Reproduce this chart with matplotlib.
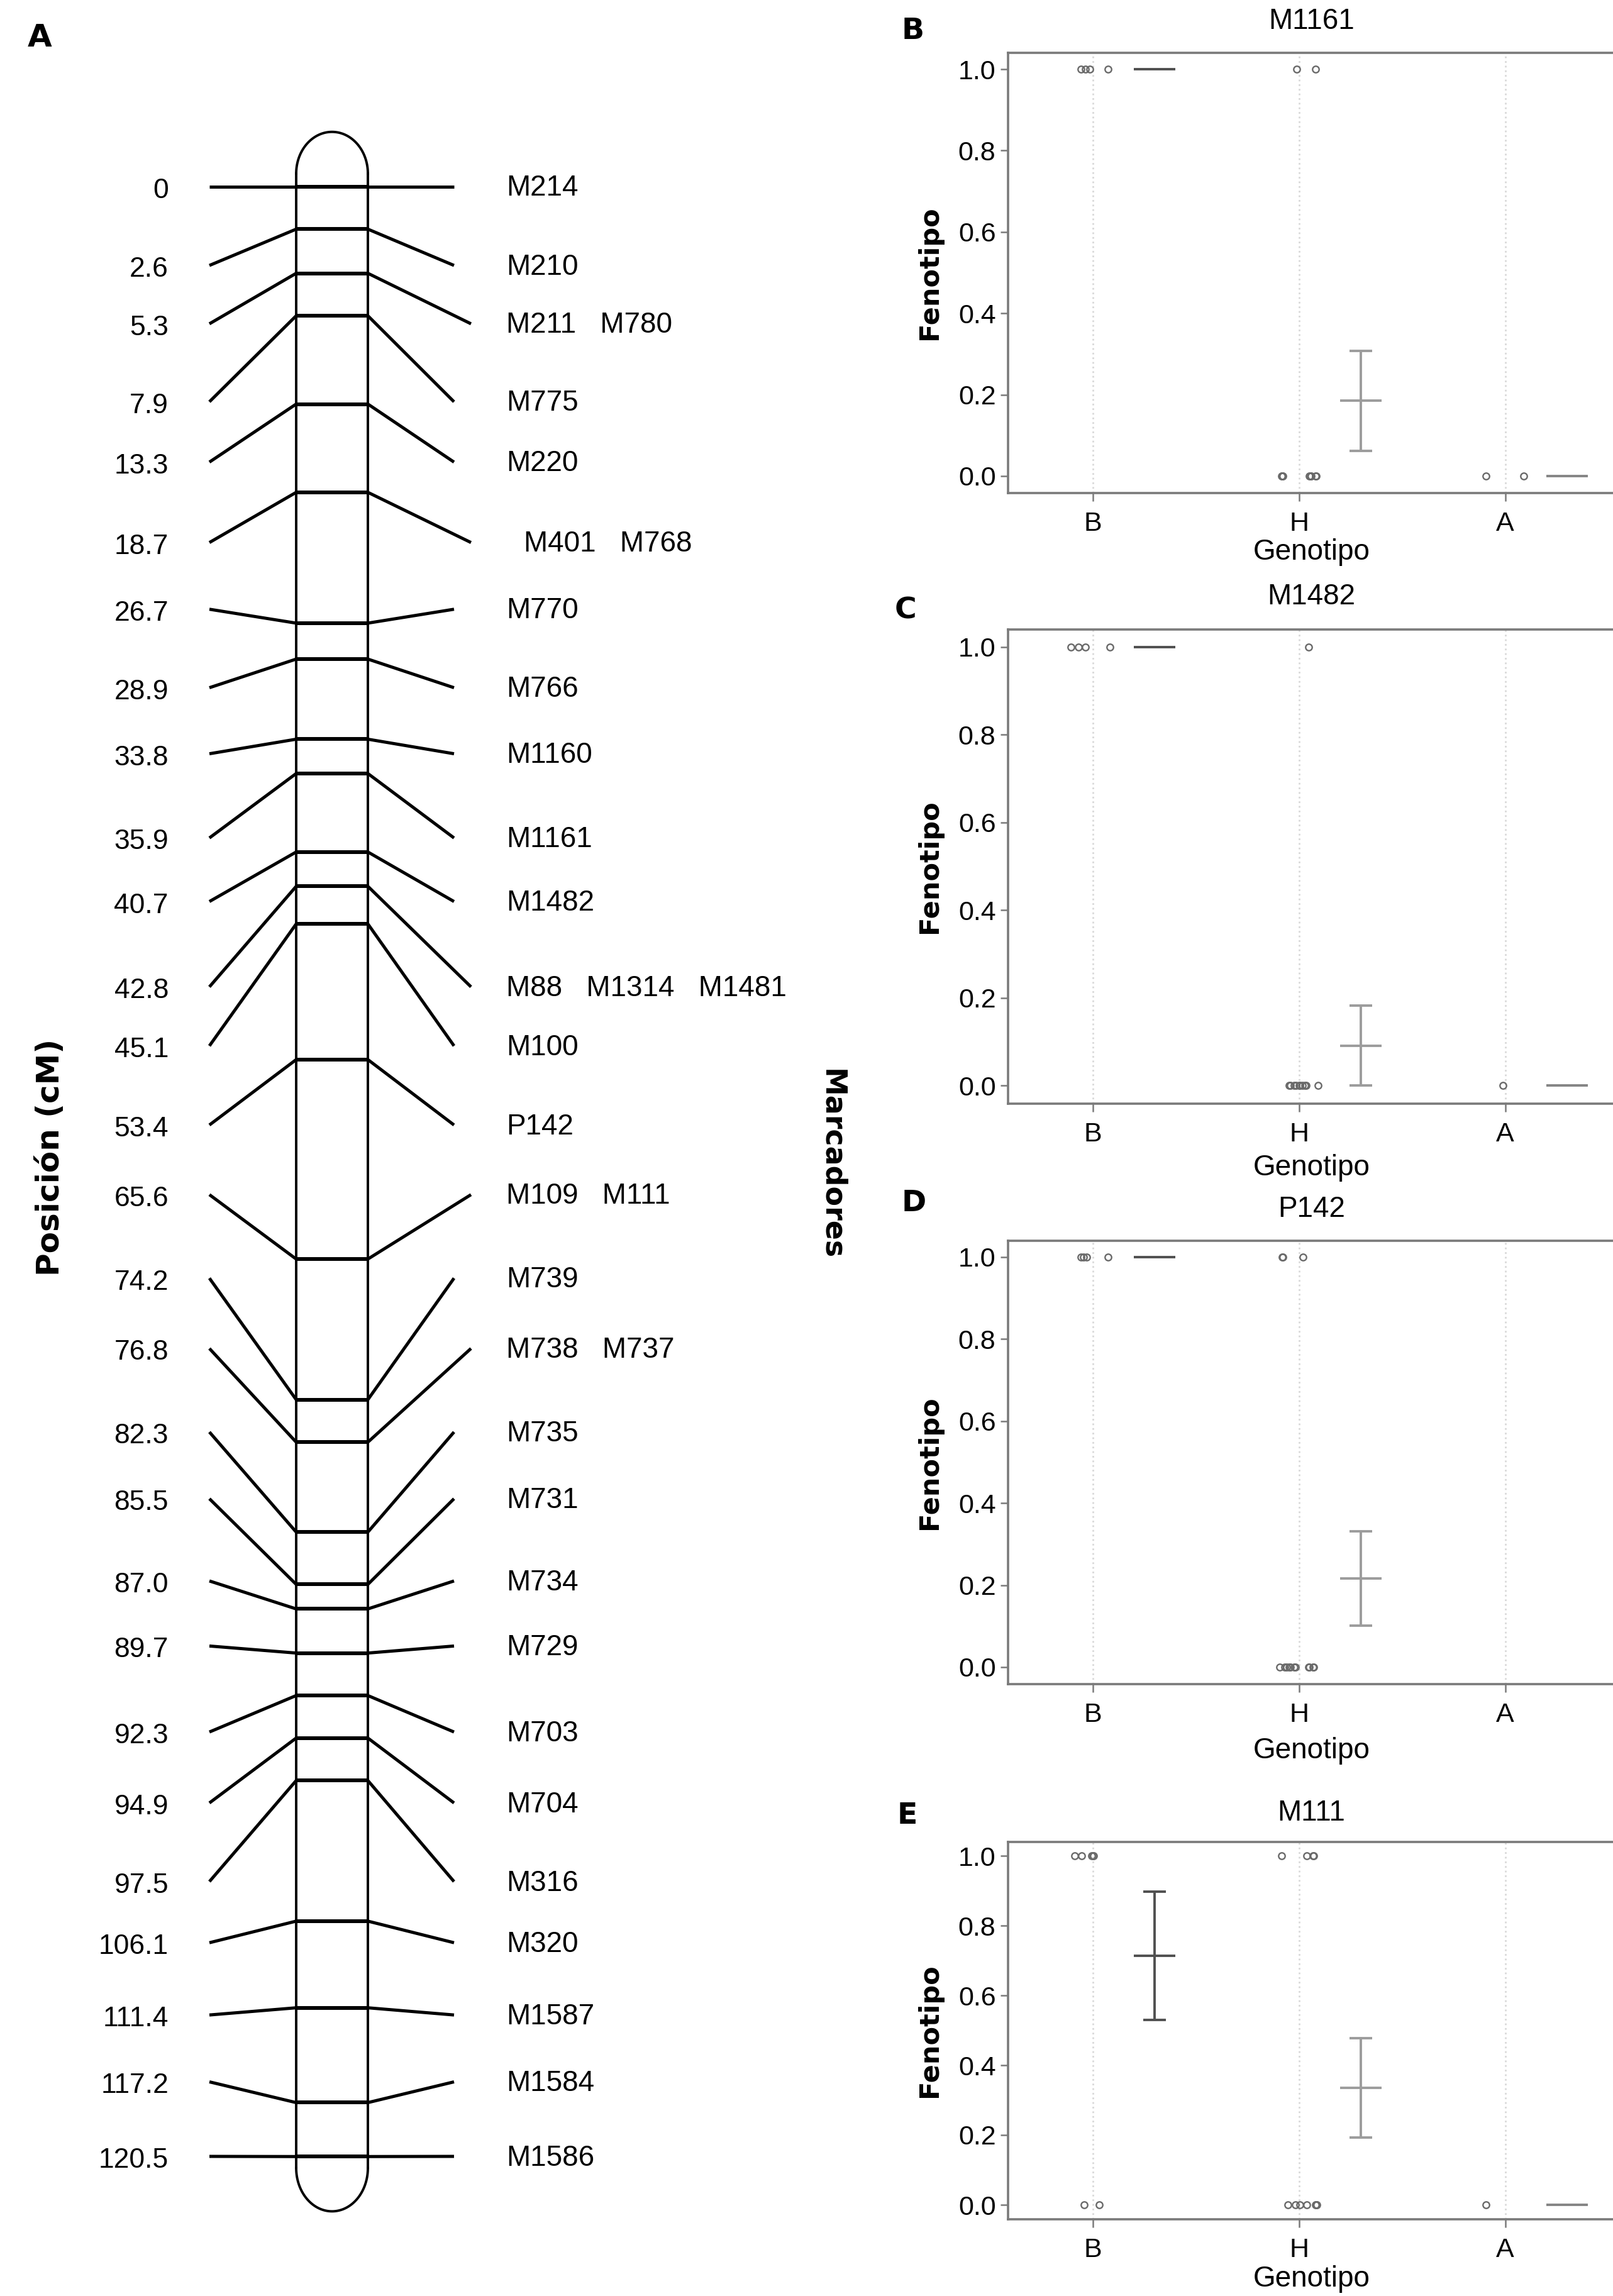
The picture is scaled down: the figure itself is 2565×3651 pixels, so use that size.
import numpy as np
import matplotlib
matplotlib.use("Agg")
import matplotlib.pyplot as plt

plt.rcParams['font.family'] = ['Liberation Sans', 'DejaVu Sans']

# ---- panel A: linkage map ----
marker_cm = [0, 2.6, 5.3, 7.9, 13.3, 18.7, 26.7, 28.9, 33.8, 35.9, 40.7, 42.8, 45.1,
             53.4, 65.6, 74.2, 76.8, 82.3, 85.5, 87.0, 89.7, 92.3, 94.9, 97.5,
             106.1, 111.4, 117.2, 120.5]
cm_labels = ["0", "2.6", "5.3", "7.9", "13.3", "18.7", "26.7", "28.9", "33.8", "35.9",
             "40.7", "42.8", "45.1", "53.4", "65.6", "74.2", "76.8", "82.3", "85.5",
             "87.0", "89.7", "92.3", "94.9", "97.5", "106.1", "111.4", "117.2", "120.5"]
marker_names = ["M214", "M210", "M211   M780", "M775", "M220", "M401   M768", "M770",
                "M766", "M1160", "M1161", "M1482", "M88   M1314   M1481", "M100", "P142",
                "M109   M111", "M739", "M738   M737", "M735", "M731", "M734", "M729",
                "M703", "M704", "M316", "M320", "M1587", "M1584", "M1586"]
# where the labels sit (spread out along the map, in cM units)
label_pos = [0, 4.82, 8.39, 13.16, 16.85, 21.77, 25.85, 30.65, 34.69, 39.84, 43.73,
             48.95, 52.56, 57.40, 61.66, 66.77, 71.07, 76.18, 80.26, 85.29, 89.27,
             94.53, 98.87, 103.68, 107.42, 111.84, 115.93, 120.49]

# ---- panels B-E: phenotype by genotype ----
genotypes = ["B", "H", "A"]

m1161_one = {"B": [-0.055, -0.035, -0.015, 0.075], "H": [-0.012, 0.08], "A": []}
m1161_zero = {"B": [], "H": [-0.085, -0.082, -0.08, -0.078, 0.05, 0.055, 0.06, 0.08, 0.085],
              "A": [-0.094, 0.09]}
m1161_mean = [1.0, 0.185, 0.0]
m1161_se = [0.0, 0.123, 0.0]

m1482_one = {"B": [-0.104, -0.069, -0.035, 0.085], "H": [0.046], "A": []}
m1482_zero = {"B": [], "H": [-0.046, -0.04, -0.023, -0.015, 0.0, 0.005, 0.016, 0.03, 0.035, 0.092],
              "A": [-0.012]}
m1482_mean = [1.0, 0.091, 0.0]
m1482_se = [0.0, 0.091, 0.0]

p142_one = {"B": [-0.055, -0.045, -0.03, 0.074], "H": [-0.08, -0.078, 0.02], "A": []}
p142_zero = {"B": [], "H": [-0.092, -0.069, -0.06, -0.046, -0.04, -0.023, -0.018, 0.046, 0.05, 0.069, 0.072],
             "A": []}
p142_mean = [1.0, 0.216, np.nan]
p142_se = [0.0, 0.115, np.nan]

m111_one = {"B": [-0.087, -0.053, -0.005, 0.0, 0.005], "H": [-0.085, 0.039, 0.067, 0.07], "A": []}
m111_zero = {"B": [-0.041, 0.032], "H": [-0.053, -0.018, 0.005, 0.039, 0.08, 0.083, 0.085, 0.088],
             "A": [-0.092]}
m111_mean = [0.714, 0.335, 0.0]
m111_se = [0.184, 0.143, 0.0]

panels = [("B", "M1161", m1161_one, m1161_zero, m1161_mean, m1161_se),
          ("C", "M1482", m1482_one, m1482_zero, m1482_mean, m1482_se),
          ("D", "P142", p142_one, p142_zero, p142_mean, p142_se),
          ("E", "M111", m111_one, m111_zero, m111_mean, m111_se)]

W, H = 2565, 3651
fig = plt.figure(figsize=(W / 100, H / 100), dpi=100)


def fx(px):
    return px / W


def fy(py):
    return 1 - py / H


# panel A drawing
axA = fig.add_axes([0, 0, 1400 / W, 1])
axA.set_xlim(0, 1400)
axA.set_ylim(129.03, -11.417)
axA.axis('off')

xl, xr = 471, 585
axA.plot([xl, xl], [-0.8, 121.2], color='black', lw=2.8)
axA.plot([xr, xr], [-0.8, 121.2], color='black', lw=2.8)
t = np.linspace(0, np.pi, 80)
axA.plot((xl + xr) / 2 + (xr - xl) / 2 * np.cos(t), -0.8 - 2.55 * np.sin(t), color='black', lw=2.8)
axA.plot((xl + xr) / 2 + (xr - xl) / 2 * np.cos(t), 121.2 + 2.65 * np.sin(t), color='black', lw=2.8)

for cm, lab, name, pos in zip(marker_cm, cm_labels, marker_names, label_pos):
    x_out_r = 749 if "   " in name else 722
    axA.plot([333, xl], [pos, cm], color='black', lw=3.6, solid_capstyle='butt')
    axA.plot([xl, xr], [cm, cm], color='black', lw=4.3, solid_capstyle='butt')
    axA.plot([xr, x_out_r], [cm, pos], color='black', lw=3.6, solid_capstyle='butt')
    axA.text(268, pos + 0.25, lab, ha='right', va='center', fontsize=32)
    x_txt = 833 if name.startswith("M401") else 805
    axA.text(x_txt, pos + 0.1, name, ha='left', va='center', fontsize=33)

fig.text(fx(80), fy(1840), "Posición (cM)", rotation=90, ha='center', va='center',
         fontsize=36, fontweight='bold', family=['DejaVu Sans'])
fig.text(fx(1322), fy(1852), "Marcadores", rotation=-90, ha='center', va='center',
         fontsize=33, fontweight='bold', family=['DejaVu Sans'])
fig.text(fx(63), fy(60), "A", ha='center', va='center', fontsize=36, fontweight='bold',
         family=['DejaVu Sans'])

# panels B-E
rows = [(110, 757), (1029, 1726), (1999, 2651), (2951, 3506)]
xlabel_drop = [94, 102, 106, 95]
letter_xy = [(1452, 50), (1440, 971), (1453, 1913), (1443, 2887)]
line_colors = ['#505050', '#9c9c9c', '#858585']
spine_col = '#7a7a7a'

for (letter, title, one, zero, mean, se), (y1, y0), drop, (lx, ly) in zip(panels, rows, xlabel_drop, letter_xy):
    unit = y0 - y1
    top = y1 - 0.040 * unit
    bot = y0 + 0.041 * unit
    ax = fig.add_axes([fx(1603), fy(bot), 994 / W, (bot - top) / H])
    ax.set_xlim(0.59, 3.62)
    ax.set_ylim(-0.041, 1.040)
    ax.grid(axis='x', linestyle=':', color='#d9d9d9', lw=2)
    ax.set_axisbelow(True)

    for i, g in enumerate(genotypes):
        xi = i + 1
        if one[g]:
            ax.plot(np.add(xi, one[g]), [1.0] * len(one[g]), 'o', mfc='none', mec='#6a6a6a',
                    ms=7.5, mew=1.7)
        if zero[g]:
            ax.plot(np.add(xi, zero[g]), [0.0] * len(zero[g]), 'o', mfc='none', mec='#6a6a6a',
                    ms=7.5, mew=1.7)
        if not np.isnan(mean[i]):
            ax.hlines(mean[i], xi + 0.2, xi + 0.4, color=line_colors[i], lw=2.8)
            if se[i] > 0:
                ax.errorbar(xi + 0.3, mean[i], yerr=se[i], fmt='none', ecolor=line_colors[i],
                            elinewidth=2.8, capsize=13, capthick=2.8)

    ax.set_xticks([1, 2, 3])
    ax.set_xticklabels(genotypes)
    ax.set_yticks([0, 0.2, 0.4, 0.6, 0.8, 1.0])
    ax.set_yticklabels(["0.0", "0.2", "0.4", "0.6", "0.8", "1.0"])
    ax.tick_params(axis='both', direction='out', length=9, width=1.8, color=spine_col,
                   labelsize=31, labelcolor='black')
    ax.tick_params(axis='x', pad=12)
    ax.tick_params(axis='y', pad=5)
    for s in ['left', 'bottom', 'top']:
        ax.spines[s].set_color(spine_col)
        ax.spines[s].set_linewidth(2.6)
    ax.spines['right'].set_visible(False)

    ax.set_xlabel("Genotipo", fontsize=33)
    ax.xaxis.set_label_coords((2.06 - 0.59) / (3.62 - 0.59), -drop / (bot - top))
    ax.xaxis.label.set_va('center')
    ax.set_ylabel("Fenotipo", fontsize=31, fontweight='bold', family=['DejaVu Sans'], labelpad=18)
    ax.text(2.06, 1.040, title, transform=ax.get_xaxis_transform(), ha='center', va='bottom',
            fontsize=33)
    fig.text(fx(lx), fy(ly), letter, ha='center', va='center', fontsize=34, fontweight='bold',
             family=['DejaVu Sans'])

fig.savefig("out.png", dpi=100)
